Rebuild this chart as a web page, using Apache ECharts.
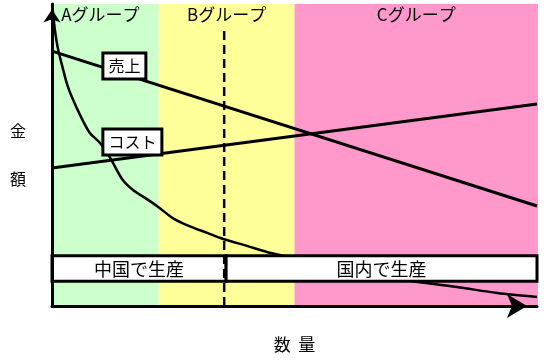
<!DOCTYPE html>
<html>
<head>
<meta charset="utf-8">
<script src="https://cdn.jsdelivr.net/npm/echarts@6/dist/echarts.min.js"></script>
<style>html,body{margin:0;padding:0;background:#fff;}#c{width:550px;height:360px;}</style>
</head>
<body>
<div id="c"></div>
<script>
// ---- data ----
const groupNames = ['Aグループ', 'Bグループ', 'Cグループ'];
const groupStart = [0, 22, 50];
const groupEnd = [22, 50, 100.2];
const bandNames = ['中国で生産', '国内で生産'];
const bandStart = [0, 35.9];
const bandEnd = [35.9, 100];
const bandLow = 8.2;
const bandHigh = 16.6;
const dividerX = 35.5;
const dividerTop = 92.4;
const salesLine = [[0, 84.4], [100, 33.1]];
const costLine = [[0, 45.7], [100, 66.9]];
const curveX = [0.2, 0.6, 1.2, 2.1, 3.1, 4.1, 5.8, 7.8, 9.9, 11.9, 14.6, 16.7, 19.2, 21.9, 24.9, 27.8, 32.0, 35.3, 40.2, 44.3, 47.0, 55.3, 65.6, 73.8, 83.5, 91.8, 100];
const curveY = [97.4, 91.4, 85.4, 79.5, 73.5, 69.2, 63.2, 57.3, 54.0, 49.3, 41.7, 38.4, 35.8, 32.8, 29.1, 26.8, 24.2, 22.2, 19.9, 17.9, 16.9, 13.9, 10.3, 8.3, 6.3, 4.3, 3.0];
const tagNames = ['売上', 'コスト'];
const tagX = [10.8, 10.8];
const tagY = [79.5, 54.3];
const xName = '数  量';
const yName = '金\n額';

// ---- styles ----
const groupColors = ['#ccffcc', '#ffff99', '#ff99cc'];
const FONT = '"Noto Sans CJK JP", "Noto Sans", sans-serif';

const chart = echarts.init(document.getElementById('c'));
const blackLine = { color: '#000', width: 3 };

chart.setOption({
  animation: false,
  backgroundColor: '#fff',
  grid: { left: 52, right: 13, top: 4, bottom: 54 },
  xAxis: {
    type: 'value', min: 0, max: 100, z: 10,
    axisLine: { show: true, onZero: false, lineStyle: blackLine, symbol: ['none', 'arrow'], symbolSize: [18, 20], symbolOffset: [0, -10] },
    axisTick: { show: false }, axisLabel: { show: false }, splitLine: { show: false },
    name: xName, nameLocation: 'middle', nameGap: 30,
    nameTextStyle: { color: '#000', fontSize: 17, fontFamily: FONT }
  },
  yAxis: {
    type: 'value', min: 0, max: 100, z: 10,
    axisLine: { show: true, onZero: false, lineStyle: blackLine, symbol: ['none', 'arrow'], symbolSize: [13, 13], symbolOffset: [0, -5.5] },
    axisTick: { show: false }, axisLabel: { show: false }, splitLine: { show: false },
    name: yName, nameLocation: 'middle', nameRotate: 0, nameGap: 26,
    nameTextStyle: { color: '#000', fontSize: 16, lineHeight: 48, fontFamily: FONT }
  },
  series: [
    {
      type: 'custom', z: 1, silent: true,
      data: groupStart.map((s, i) => [s, groupEnd[i], i]),
      renderItem: function (params, api) {
        const i = api.value(2);
        const p0 = api.coord([api.value(0), 100]);
        const p1 = api.coord([api.value(1), 0]);
        return {
          type: 'group',
          children: [
            { type: 'rect', shape: { x: p0[0], y: p0[1], width: p1[0] - p0[0], height: p1[1] - p0[1] }, style: { fill: groupColors[i] } },
            { type: 'text', style: { text: groupNames[i], x: (p0[0] + p1[0]) / 2 - (i === 0 ? 5 : 0), y: p0[1] + 2, align: 'center', verticalAlign: 'top', fontSize: 17, fontFamily: FONT, fill: '#000' } }
          ]
        };
      }
    },
    {
      type: 'line', z: 3, symbol: 'none', silent: true,
      data: salesLine, lineStyle: blackLine
    },
    {
      type: 'line', z: 3, symbol: 'none', silent: true,
      data: costLine, lineStyle: blackLine
    },
    {
      type: 'line', z: 3, symbol: 'none', silent: true, smooth: 0.3,
      data: curveX.map((x, i) => [x, curveY[i]]), lineStyle: { color: '#000', width: 2.5 }
    },
    {
      type: 'custom', z: 4, silent: true,
      data: bandStart.map((s, i) => [s, bandEnd[i], i]),
      renderItem: function (params, api) {
        const i = api.value(2);
        const p0 = api.coord([api.value(0), bandHigh]);
        const p1 = api.coord([api.value(1), bandLow]);
        return {
          type: 'group',
          children: [
            { type: 'rect', shape: { x: p0[0], y: p0[1], width: p1[0] - p0[0], height: p1[1] - p0[1] }, style: { fill: '#fff', stroke: '#000', lineWidth: 3 } },
            { type: 'text', style: { text: bandNames[i], x: (p0[0] + p1[0]) / 2, y: (p0[1] + p1[1]) / 2 + 1, align: 'center', verticalAlign: 'middle', fontSize: 18, fontFamily: FONT, fill: '#000' } }
          ]
        };
      }
    },
    {
      type: 'line', z: 5, symbol: 'none', silent: true,
      data: [[dividerX, 0], [dividerX, dividerTop]],
      lineStyle: { color: '#000', width: 2.5, type: [9, 5] }
    },
    {
      type: 'custom', z: 6, silent: true,
      data: tagX.map((x, i) => [x, tagY[i], i]),
      renderItem: function (params, api) {
        const i = api.value(2);
        const p = api.coord([api.value(0), api.value(1)]);
        return {
          type: 'text',
          style: {
            text: tagNames[i], x: p[0], y: p[1], align: 'left', verticalAlign: 'middle',
            fontSize: 16, fontFamily: FONT, fill: '#000',
            backgroundColor: '#fff', borderColor: '#000', borderWidth: 3,
            padding: [4, 4, 3, 4]
          }
        };
      }
    }
  ]
});
</script>
</body>
</html>
